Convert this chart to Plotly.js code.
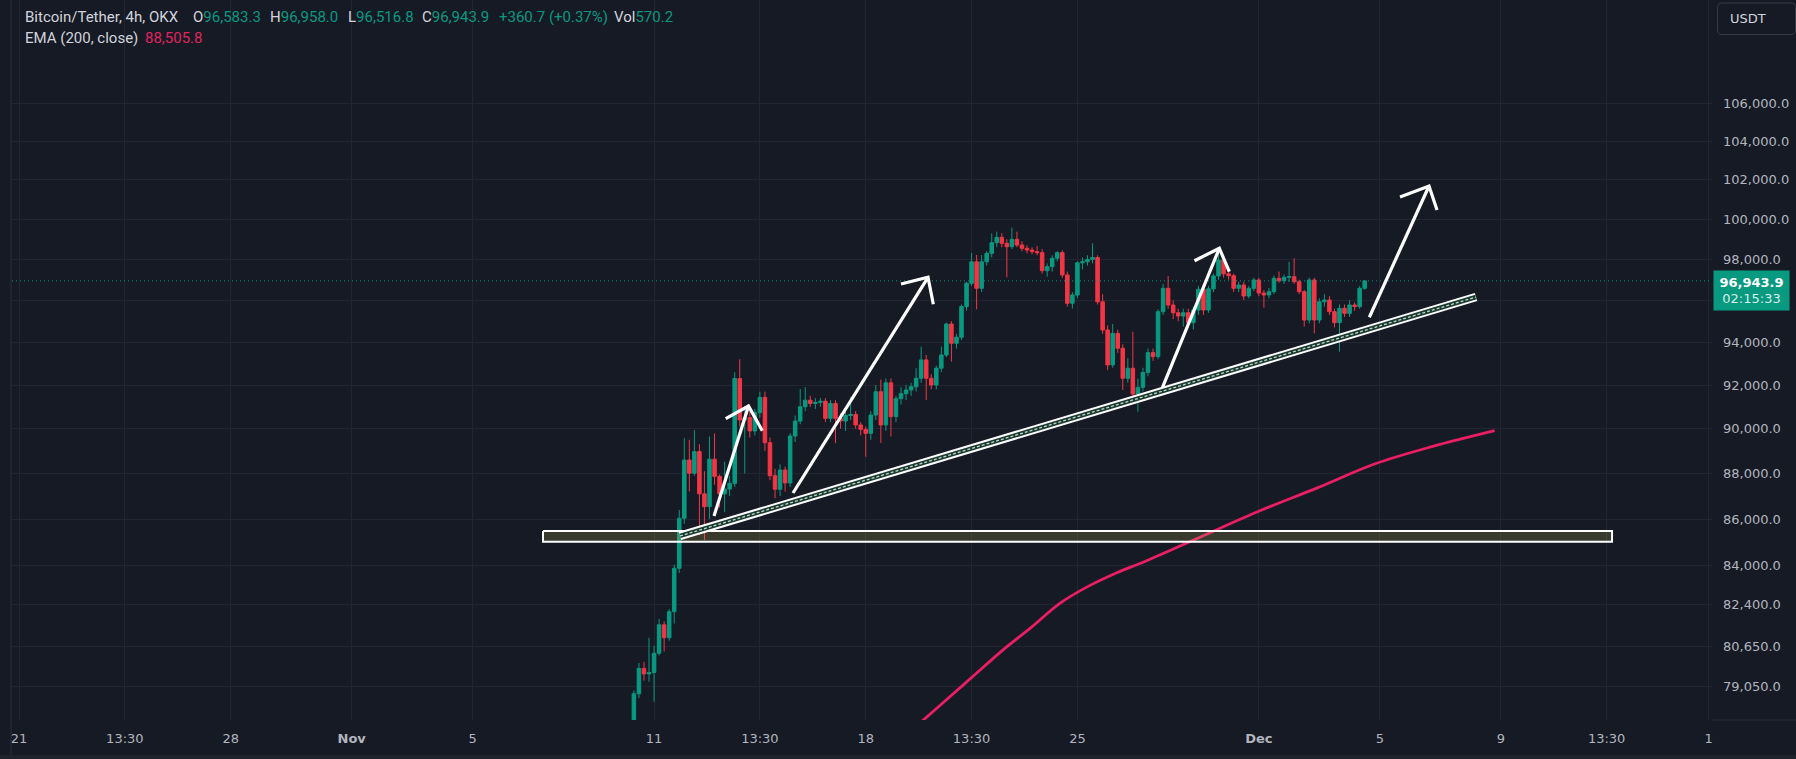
<!DOCTYPE html>
<html><head><meta charset="utf-8">
<script src="https://cdn.plot.ly/plotly-3.0.1.min.js"></script>
<style>html,body{margin:0;padding:0;background:#161a25;overflow:hidden}#chart{width:1796px;height:759px}</style>
</head><body><div id="chart"></div>
<script>
// ---- data (BTC/USDT 4h, OKX) ----
const firstCandle = '2024-11-10T08:00:00Z';
const stepHours = 4;
const open = [77300,78770,79780,79560,79620,80390,81550,81020,82090,83900,
86035,88596,88010,88970,87100,86540,88630,87870,87100,87310,
87560,92300,90400,90500,89900,90730,91430,89370,87900,87300,
88150,87580,89670,90350,91000,91300,91150,91200,91250,90470,
91150,90470,90350,90600,90650,90170,89970,89790,90620,91690,
90170,92100,90550,91370,91600,91769,91920,92310,93169,92310,
92000,92780,93400,94865,93950,94235,95700,96828,97880,96584,
97880,98297,98826,99090,98793,98625,98990,98710,98545,98462,
98380,98330,97443,97640,98052,98330,97233,95860,96260,97830,
97880,98000,98090,95930,94580,92935,94420,93713,92310,92780,
91585,91890,92578,93510,93322,95455,96584,95777,95405,95248,
95405,94930,95536,96536,95536,96560,97184,97969,97290,97200,
96584,96745,96210,96584,96989,96356,96260,96420,97070,96955,
97118,97150,96907,96420,95057,96989,95057,95930,96018,95455,
94930,95615,95375,95777,95697,96583.3];
const high = [78900,80000,80040,81020,80700,81790,81700,82200,84050,86400,
89570,89500,89940,89300,88100,89650,89790,87950,88520,87900,
92590,93200,90900,91000,90900,91690,91700,89600,88200,88400,
88300,89800,90600,91815,91900,91500,91400,91400,91400,91300,
91300,90700,90900,91450,90800,90300,90100,90800,92000,92250,
92300,92300,91500,91900,92000,92100,92780,93790,93400,92500,
92900,93790,94930,95000,94400,95800,96900,98320,98215,98215,
98400,99292,99375,99300,99000,99575,99375,98900,98700,98600,
98660,98500,97800,98200,98400,98450,97400,96400,97900,98090,
98200,98793,98200,96300,94800,94870,94600,93900,93250,94500,
92300,92800,93700,93700,95570,96800,97184,96000,95600,95600,
95600,95700,96700,96800,96700,97300,98386,98220,97500,97300,
96900,96900,96700,97100,97100,96500,96600,97200,97400,97250,
97880,98052,97000,96500,97100,97100,96100,96300,96200,95600,
95800,95800,96000,95900,96700,96958];
const low = [77000,78600,79290,79250,78460,80300,80460,80900,81600,83700,
85800,87200,87900,85320,85100,86000,87500,86500,86300,87000,
87400,90100,88000,89600,89700,90500,89000,87700,86900,87000,
87200,87400,89400,90200,90800,91000,90900,91000,90300,90300,
89350,90000,89900,90400,90000,89700,88740,89500,90400,89360,
89900,89650,90300,91100,91300,91500,91700,92100,91309,91800,
91800,92600,93300,93090,93700,94100,95500,96700,95570,96400,
97700,98100,98600,98600,97118,98500,98600,98400,98300,98250,
98200,97300,97150,97400,97900,97100,95700,95600,96100,97500,
97700,97800,95800,94400,92700,92800,93500,91769,92100,91390,
90774,91700,92400,93130,93200,95300,95600,95100,95000,94740,
94700,94600,95300,95300,95400,96400,97000,97100,97000,96400,
96400,96018,96100,96450,96200,95650,96100,96300,96850,96800,
96900,96800,96300,94740,94900,94420,94900,95700,95300,94700,
93560,95200,95200,95500,95600,96516.8];
const close = [78770,79780,79560,79620,80390,81550,81020,82090,83900,86035,
88596,88010,88970,87100,86540,88630,87870,87100,87310,87560,
92300,90400,90500,89900,90730,91430,89370,87900,87300,88150,
87580,89670,90350,91000,91300,91150,91200,91250,90470,91150,
90470,90350,90600,90650,90170,89970,89790,90620,91690,90170,
92100,90550,91370,91600,91769,91920,92310,93169,92310,92000,
92780,93400,94865,93950,94235,95700,96828,97880,96584,97880,
98297,98826,99090,98793,98625,98990,98710,98545,98462,98380,
98330,97443,97640,98052,98330,97233,95860,96260,97830,97880,
98000,98090,95930,94580,92935,94420,93713,92310,92780,91585,
91890,92578,93510,93322,95455,96584,95777,95405,95248,95405,
94930,95536,96536,95536,96560,97184,97969,97290,97200,96584,
96745,96210,96584,96989,96356,96260,96420,97070,96955,97118,
97150,96907,96420,95057,96989,95057,95930,96018,95455,94930,
95615,95375,95777,95697,96583.3,96943.9];

// EMA(200) line as drawn
const emaTime = ['2024-11-19 12:43','2024-11-20 14:56','2024-11-21 13:36','2024-11-22 12:19','2024-11-23 11:05','2024-11-24 09:48','2024-11-25 08:30','2024-11-26 07:16','2024-11-27 06:00','2024-11-29 03:26','2024-12-01 00:50','2024-12-02 22:19','2024-12-04 19:47','2024-12-06 17:15','2024-12-08 19:10'];
const emaValue = [77348,78485,79485,80500,81431,82424,83140,83715,84200,85276,86362,87362,88417,89190,89911];

// drawings
const zoneTime = ['2024-11-07 07:52','2024-12-12 16:18'];
const zonePrice = [85490, 85031];
const trendTime = ['2024-11-11 20:36','2024-12-08 04:21'];
const trendPrice = [85276, 96162];
// arrows: [base, tip, left wing, right wing]
const arrow1Time = ['2024-11-12 23:36','2024-11-14 02:58','2024-11-13 08:53','2024-11-14 13:55'];
const arrow1Price = [86137, 91034, 90455, 89911];
const arrow2Time = ['2024-11-15 14:17','2024-11-20 01:26','2024-11-19 04:00','2024-11-20 05:38'];
const arrow2Price = [87138, 97120, 96794, 95810];
const arrow3Time = ['2024-11-27 19:32','2024-11-29 16:38','2024-11-28 20:56','2024-11-30 00:33'];
const arrow3Price = [91895, 98546, 97934, 97395];
const arrow4Time = ['2024-12-04 15:41','2024-12-06 15:03','2024-12-05 16:02','2024-12-06 21:24'];
const arrow4Price = [95187, 101683, 101122, 100464];

// header legend texts
const headerItems = [
  {label:'Bitcoin/Tether, 4h, OKX', value:''},
  {label:'O', value:'96,583.3'},
  {label:'H', value:'96,958.0'},
  {label:'L', value:'96,516.8'},
  {label:'C', value:'96,943.9'},
  {label:'', value:'+360.7 (+0.37%)'},
  {label:'Vol', value:'570.2'}
];
const headerItemX = [23, 191, 268, 346, 420, 497, 612];
const emaLegend = {label:'EMA (200, close)', value:'88,505.8'};
const emaLegendX = [23, 143];

// axes
const xRange = ['2024-10-20 08:55','2024-12-15 23:38'];
const xTickVals = ['2024-10-21','2024-10-24 12:00','2024-10-28','2024-11-01','2024-11-05','2024-11-11','2024-11-14 12:00','2024-11-18','2024-11-21 12:00','2024-11-25','2024-12-01','2024-12-05','2024-12-09','2024-12-12 12:00','2024-12-15 21:00'];
const xTickText = ['21','13:30','28','<b>Nov</b>','5','11','13:30','18','13:30','25','<b>Dec</b>','5','9','13:30','1'];
const yRange = [77738, 111651];
const yTickVals = [79050,80650,82400,84000,86000,88000,90000,92000,94000,96000,98000,100000,102000,104000,106000];
const yTickText = ['79,050.0','80,650.0','82,400.0','84,000.0','86,000.0','88,000.0','90,000.0','92,000.0','94,000.0','','98,000.0','100,000.0','102,000.0','104,000.0','106,000.0'];

// ---- build ----
const pad = n => String(n).padStart(2,'0');
const t0 = Date.parse(firstCandle);
const times = close.map((_, i) => {
  const d = new Date(t0 + i*stepHours*3600e3);
  return `${d.getUTCFullYear()}-${pad(d.getUTCMonth()+1)}-${pad(d.getUTCDate())} ${pad(d.getUTCHours())}:${pad(d.getUTCMinutes())}`;
});
const last = close[close.length-1];
const fmt = v => v.toLocaleString('en-US',{minimumFractionDigits:1,maximumFractionDigits:1});
const GREEN = '#089981', RED = '#f23645', TXT = '#b2b5be', LBL = '#d1d4dc';
const FONT = 'DejaVu Sans, sans-serif';

function arrowTrace(t, p){
  return {type:'scatter', mode:'lines', x:[t[0],t[1],null,t[2],t[1],t[3]], y:[p[0],p[1],null,p[2],p[1],p[3]],
    line:{color:'#ffffff', width:3.2}, hoverinfo:'skip', connectgaps:false};
}

const traces = [
  {type:'scatter', mode:'lines', x:xRange, y:[last,last], line:{color:GREEN, width:1, dash:'1px,3px'}, hoverinfo:'skip'},
  {type:'candlestick', x:times, open:open, high:high, low:low, close:close,
    increasing:{line:{color:GREEN,width:1}, fillcolor:GREEN},
    decreasing:{line:{color:RED,width:1}, fillcolor:RED},
    whiskerwidth:0, hoverinfo:'skip'},
  {type:'scatter', mode:'lines', x:emaTime, y:emaValue, line:{color:'#e91e63', width:2.8, shape:'spline', smoothing:1}, hoverinfo:'skip'},
  {type:'scatter', mode:'lines', x:[zoneTime[0],zoneTime[1],zoneTime[1],zoneTime[0],zoneTime[0]],
    y:[zonePrice[0],zonePrice[0],zonePrice[1],zonePrice[1],zonePrice[0]], fill:'toself',
    fillcolor:'rgba(200,190,85,0.2)', line:{color:'#ffffff', width:2}, hoverinfo:'skip'},
  {type:'scatter', mode:'lines', x:trendTime, y:trendPrice, line:{color:'#ffffff', width:8.5}, hoverinfo:'skip'},
  {type:'scatter', mode:'lines', x:trendTime, y:trendPrice, line:{color:'#1d3a31', width:4.5}, hoverinfo:'skip'},
  {type:'scatter', mode:'lines', x:trendTime, y:trendPrice, line:{color:'#b8d8ca', width:1.3, dash:'3px,2px'}, hoverinfo:'skip'},
  arrowTrace(arrow1Time, arrow1Price),
  arrowTrace(arrow2Time, arrow2Price),
  arrowTrace(arrow3Time, arrow3Price),
  arrowTrace(arrow4Time, arrow4Price)
];

const annotations = [];
function headerAnn(text, px, yshift){
  annotations.push({xref:'paper', yref:'paper', x:0, xshift:px, y:1, yshift:yshift, xanchor:'left', yanchor:'middle',
    showarrow:false, text:text, font:{family:'Roboto, sans-serif', size:15}});
}
headerItems.forEach((it, i) => {
  headerAnn(`<span style="color:${LBL}">${it.label}</span><span style="color:${GREEN}">${it.value}</span>`, headerItemX[i], -17);
});
headerAnn(`<span style="color:${LBL}">${emaLegend.label}</span>`, emaLegendX[0], -38);
headerAnn(`<span style="color:#e0245e">${emaLegend.value}</span>`, emaLegendX[1], -38);
annotations.push({xref:'paper', yref:'paper', x:1, y:1, xshift:16, yshift:-18.5, xanchor:'left', yanchor:'middle', showarrow:false,
  text:'USDT', font:{family:FONT, size:13, color:LBL}});
annotations.push({xref:'paper', yref:'y', x:1, xshift:1, y:Math.log10(last), yshift:-10, xanchor:'left', yanchor:'middle', showarrow:false,
  text:`<b>${fmt(last)}</b><br><span style="color:rgba(255,255,255,0.85)">02:15:33</span>`,
  bgcolor:GREEN, width:75, height:39, borderpad:0, align:'center', font:{family:FONT, size:13, color:'#ffffff'}});

const layout = {
  width:1796, height:759,
  margin:{l:0, r:84, t:0, b:39, pad:0},
  paper_bgcolor:'#161a25', plot_bgcolor:'#161a25',
  showlegend:false,
  boxgap:0.3, boxgroupgap:0,
  font:{family:FONT, color:TXT, size:13},
  xaxis:{type:'date', range:xRange, tickmode:'array', tickvals:xTickVals, ticktext:xTickText,
    showgrid:true, gridcolor:'#232632', gridwidth:1, zeroline:false, showline:false, ticks:'',
    tickfont:{family:FONT, size:13, color:TXT}, ticklabelstandoff:9, rangeslider:{visible:false}, fixedrange:true},
  yaxis:{type:'log', side:'right', range:[Math.log10(yRange[0]), Math.log10(yRange[1])], tickmode:'array',
    tickvals:yTickVals, ticktext:yTickText, showgrid:true, gridcolor:'#232632', gridwidth:1, zeroline:false,
    showline:false, ticks:'', tickfont:{family:FONT, size:13, color:TXT}, ticklabelstandoff:10, fixedrange:true},
  shapes:[
    {type:'line', xref:'paper', yref:'paper', x0:1, x1:1.06, y0:0, y1:0, line:{color:'#2a2e39', width:1}},
    {type:'path', xref:'paper', yref:'paper', xsizemode:'pixel', ysizemode:'pixel', xanchor:1, yanchor:1,
      path:'M 10,-3 L 79,-3 Q 83.5,-3 83.5,-7.5 L 83.5,-30 Q 83.5,-34.5 79,-34.5 L 10,-34.5 Q 5.5,-34.5 5.5,-30 L 5.5,-7.5 Q 5.5,-3 10,-3 Z',
      line:{color:'#363a45', width:1}, fillcolor:'#161a25'},
    {type:'rect', xref:'paper', yref:'paper', xsizemode:'pixel', ysizemode:'pixel', xanchor:0, yanchor:1,
      x0:0, x1:11, y0:1, y1:-760, line:{width:0}, fillcolor:'#161a25', layer:'above'},
    {type:'line', xref:'paper', yref:'paper', xsizemode:'pixel', ysizemode:'pixel', xanchor:0, yanchor:1,
      x0:11, x1:11, y0:1, y1:-760, line:{color:'#2a2e39', width:1}, layer:'above'},
    {type:'rect', xref:'paper', yref:'paper', xsizemode:'pixel', ysizemode:'pixel', xanchor:0, yanchor:0,
      x0:0, x1:1800, y0:-35, y1:-40, line:{width:0}, fillcolor:'#20232c', layer:'above'}
  ],
  annotations:annotations
};

Plotly.newPlot('chart', traces, layout, {displayModeBar:false, staticPlot:true});
</script>
</body></html>
